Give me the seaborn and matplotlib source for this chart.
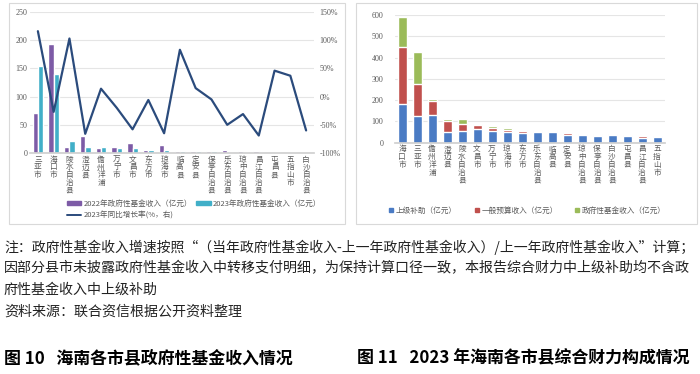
import numpy as np
import pandas as pd
import matplotlib
matplotlib.use("Agg")
import matplotlib.pyplot as plt
import seaborn as sns
from matplotlib.patches import Rectangle
from matplotlib.lines import Line2D
from matplotlib.ticker import FuncFormatter

sns.set_theme(style="white")
plt.rcParams['font.family'] = ['Noto Sans CJK SC', 'DejaVu Sans']

# ---- 图10 数据 ----
cities_fund = ['三亚市', '海口市', '陵水自治县', '澄迈县', '儋州洋浦', '万宁市', '文昌市',
               '东方市', '琼海市', '临高县', '定安县', '保亭自治县', '乐东自治县',
               '琼中自治县', '昌江自治县', '屯昌县', '五指山市', '白沙自治县']
fund_2022 = [71, 193, 11, 31, 9, 10, 18, 6, 15, 3, 3, 3, 5, 3, 3, 0.5, 0.5, 1]
fund_2023 = [154, 140, 22, 10, 10, 9, 8, 6, 6, 4, 3, 3, 2, 2, 1, 1, 1, 0.5]
growth_2023 = [116, -27, 103, -66, 14, -20, -58, -6, -65, 83, 15, -5, -50, -31, -69, 46, 37, -60]

# ---- 图11 数据 ----
cities_fin = ['海口市', '三亚市', '儋州洋浦', '澄迈县', '陵水自治县', '文昌市', '万宁市',
              '琼海市', '东方市', '乐东自治县', '临高县', '定安县', '琼中自治县',
              '保亭自治县', '白沙自治县', '屯昌县', '昌江自治县', '五指山市']
subsidy = [182, 127, 130, 52, 55, 64, 53, 48, 45, 50, 49, 38, 36, 31, 36, 30, 24, 28]
budget = [266, 147, 67, 51, 33, 18, 16, 13, 10, 6, 6, 8, 3, 6, 3, 5, 8, 2]
fund = [141, 154, 10, 10, 22, 8, 9, 6, 6, 2, 4, 3, 2, 3, 1, 1, 1, 1]

c22, c23, cline = '#7D5BA6', '#41AFC8', '#2B4B7C'
cblue, cred, cgreen = '#4A7BC4', '#C0504D', '#9BBB59'
grid_c = '#E5E5E5'
tick_c = '#595959'
num_font = ['Liberation Serif', 'Noto Sans CJK SC']

fig = plt.figure(figsize=(7, 3.74), dpi=100)

# frames
for x0, w in [(9, 336), (356, 341)]:
    fig.patches.append(Rectangle((x0 / 700, 1 - 224 / 374), w / 700, 221 / 374,
                                 transform=fig.transFigure, fill=False,
                                 edgecolor='#D9D9D9', linewidth=0.8))


def style_ax(ax):
    ax.grid(axis='y', color=grid_c, linewidth=0.8)
    ax.set_axisbelow(True)
    for s in ['top', 'right', 'left']:
        ax.spines[s].set_visible(False)
    ax.spines['bottom'].set_color('#D0D0D0')
    ax.tick_params(axis='both', length=0, colors=tick_c, labelsize=5.8, pad=2)
    ax.set_xlabel('')
    ax.set_ylabel('')


# ---------- 左图 ----------
ax = fig.add_axes([30 / 700, 1 - 153 / 374, 284 / 700, 141 / 374])
df1 = pd.DataFrame({'city': cities_fund * 2,
                    'value': fund_2022 + fund_2023,
                    'year': ['2022'] * len(cities_fund) + ['2023'] * len(cities_fund)})
sns.barplot(data=df1, x='city', y='value', hue='year', order=cities_fund,
            palette=[c22, c23], width=0.68, ax=ax, legend=False, saturation=1)
ax.set_ylim(0, 250)
ax.set_yticks(range(0, 251, 50))
style_ax(ax)
ax.set_xticks(range(len(cities_fund)))
ax.set_xticklabels(['\n'.join(c) for c in cities_fund], linespacing=0.95,
                   va='top', fontsize=5.5)
for t in ax.get_yticklabels():
    t.set_family(num_font)

ax2 = ax.twinx()
df_line = pd.DataFrame({'pos': np.arange(len(cities_fund)), 'growth': growth_2023})
sns.lineplot(data=df_line, x='pos', y='growth', color=cline, linewidth=1.6, ax=ax2)
ax2.set_ylim(-100, 150)
ax2.set_yticks(range(-100, 151, 50))
ax2.yaxis.set_major_formatter(FuncFormatter(lambda v, p: f'{v:.0f}%'))
for s in ['top', 'right', 'left', 'bottom']:
    ax2.spines[s].set_visible(False)
ax2.tick_params(axis='y', length=0, colors=tick_c, labelsize=5.8, pad=4)
ax2.set_xlabel('')
ax2.set_ylabel('')
for t in ax2.get_yticklabels():
    t.set_family(num_font)
ax.set_xlim(-0.5, len(cities_fund) - 0.5)

h1 = [Rectangle((0, 0), 1, 1, color=c22), Rectangle((0, 0), 1, 1, color=c23),
      Line2D([], [], color=cline, linewidth=1.4)]
l1 = ['2022年政府性基金收入（亿元）', '2023年政府性基金收入（亿元）', '2023年同比增长率(%，右)']
fig.legend([h1[0], h1[2], h1[1]], [l1[0], l1[2], l1[1]], ncol=2,
           loc='upper left', bbox_to_anchor=(60 / 700, 1 - 193 / 374),
           frameon=False, fontsize=5.5, handlelength=1.9, handleheight=0.35,
           handletextpad=0.3, columnspacing=0.5, labelspacing=0.45,
           labelcolor=tick_c)

# ---------- 右图 ----------
bx = fig.add_axes([394.5 / 700, 1 - 142.7 / 374, 270 / 700, 127.7 / 374])
total = np.array(subsidy) + np.array(budget) + np.array(fund)
sub_bud = np.array(subsidy) + np.array(budget)
for vals, col in [(total, cgreen), (sub_bud, cred), (np.array(subsidy), cblue)]:
    sns.barplot(x=cities_fin, y=vals, order=cities_fin, color=col, width=0.6,
                ax=bx, saturation=1)
bx.set_ylim(0, 600)
bx.set_yticks(range(0, 601, 100))
style_ax(bx)
bx.set_xticks(range(len(cities_fin)))
bx.set_xticklabels(['\n'.join(c) for c in cities_fin], linespacing=0.95,
                   va='top', fontsize=5.5)
for t in bx.get_yticklabels():
    t.set_family(num_font)
bx.tick_params(axis='y', pad=8)

h2 = [Line2D([], [], marker='s', linestyle='', color=c, markersize=3.5)
      for c in [cblue, cred, cgreen]]
fig.legend(h2, ['上级补助（亿元）', '一般预算收入（亿元）', '政府性基金收入（亿元）'],
           ncol=3, loc='center', bbox_to_anchor=(527 / 700, 1 - 211 / 374),
           frameon=False, fontsize=5.5, handlelength=0.8, handletextpad=0.2,
           columnspacing=2.2, labelcolor=tick_c)

# ---------- 注释与标题 ----------
notes = ['注：政府性基金收入增速按照“（当年政府性基金收入-上一年政府性基金收入）/上一年政府性基金收入”计算；',
         '因部分县市未披露政府性基金收入中转移支付明细，为保持计算口径一致，本报告综合财力中上级补助均不含政',
         '府性基金收入中上级补助',
         '资料来源：联合资信根据公开资料整理']
note_sizes = [10.0, 10.1, 10.1, 10.1]
for txt, yy, fs in zip(notes, [247, 268, 290, 312], note_sizes):
    fig.text(4 / 700, 1 - yy / 374, txt, fontsize=fs, va='center', ha='left',
             color='#222222')

fig.text(4 / 700, 1 - 358 / 374, '图 10   海南各市县政府性基金收入情况', fontsize=12.2,
         fontweight='bold', va='center', ha='left', color='black')
fig.text(357 / 700, 1 - 358 / 374, '图 11   2023 年海南各市县综合财力构成情况', fontsize=12.2,
         fontweight='bold', va='center', ha='left', color='black')

fig.savefig('out.png', dpi=100)
